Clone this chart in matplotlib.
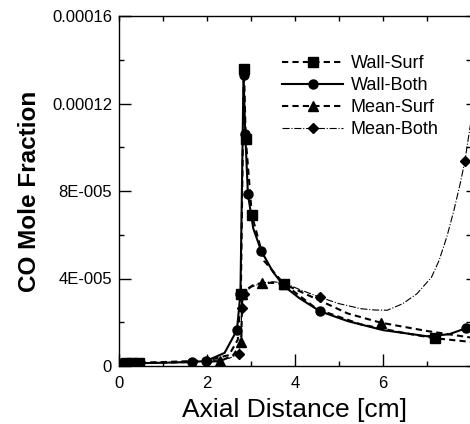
"""
CO mole fraction along the axis for the wall / mean boundary conditions
"""
import numpy as np
from matplotlib import pyplot as plt
from matplotlib.ticker import FixedLocator, MultipleLocator

plt.rcParams['font.family'] = ['Liberation Sans', 'DejaVu Sans']

SCALE = 1e-5  # y values below are stored in units of 1e-5

# Wall-Surf (squares, dashed)
ws_x = [0.0, 0.08, 0.16, 0.3, 0.45, 1.0, 2.0, 2.5, 2.7, 2.77, 2.8, 2.84, 2.88,
        3.02, 3.3, 3.75, 4.5, 5.5, 6.5, 7.18, 8.0]
ws_y = [0.1, 0.1, 0.12, 0.12, 0.15, 0.18, 0.25, 0.5, 1.2, 3.3, 8.0, 13.6, 10.4,
        6.9, 4.8, 3.75, 2.6, 1.9, 1.5, 1.27, 1.1]
ws_marks = [0, 1, 2, 3, 4, 9, 11, 12, 13, 15, 19]

# Wall-Both (circles, solid)
wb_x = [0.0, 0.1, 0.3, 0.45, 1.0, 1.66, 1.98, 2.4, 2.68, 2.76, 2.8, 2.83, 2.87,
        2.93, 3.05, 3.23, 3.5, 3.75, 4.1, 4.57, 5.2, 6.0, 7.0, 7.5, 7.89, 8.0]
wb_y = [0.1, 0.1, 0.12, 0.13, 0.15, 0.18, 0.23, 0.6, 1.64, 3.3, 9.0, 13.3, 10.6,
        7.86, 6.3, 5.27, 4.3, 3.65, 3.1, 2.5, 2.05, 1.64, 1.36, 1.45, 1.73, 1.82]
wb_marks = [0, 5, 6, 8, 9, 11, 12, 13, 15, 19, 24]

# Mean-Surf (triangles, dashed)
ms_x = [0.0, 0.1, 0.3, 1.0, 2.0, 2.3, 2.6, 2.78, 2.8, 2.9, 3.05, 3.25, 3.5,
        3.75, 4.5, 5.2, 5.95, 7.0, 8.0]
ms_y = [0.1, 0.1, 0.12, 0.15, 0.2, 0.22, 0.5, 1.1, 3.3, 3.5, 3.7, 3.8, 3.8,
        3.75, 3.05, 2.4, 1.98, 1.6, 1.3]
ms_marks = [0, 1, 5, 7, 8, 11, 13, 16]

# Mean-Both (diamonds, dash-dot)
mb_x = [0.0, 0.1, 0.3, 1.0, 2.0, 2.5, 2.73, 2.8, 2.83, 3.0, 3.25, 3.5, 3.75,
        4.1, 4.57, 5.0, 5.5, 5.8, 6.1, 6.45, 6.77, 7.1, 7.27, 7.45, 7.61, 7.75,
        7.86, 8.0]
mb_y = [0.1, 0.1, 0.12, 0.15, 0.22, 0.35, 0.55, 2.65, 3.3, 3.6, 3.8, 3.85, 3.8,
        3.5, 3.14, 2.85, 2.62, 2.56, 2.55, 2.85, 3.3, 4.05, 4.8, 5.9, 7.1, 8.3,
        9.36, 11.2]
mb_marks = [0, 1, 2, 4, 6, 7, 8, 14, 26]

y_ticks = [0, 4e-5, 8e-5, 1.2e-4, 1.6e-4]
y_tick_labels = ['0', '4E-005', '8E-005', '0.00012', '0.00016']
x_ticks = [0, 2, 4, 6]
x_tick_labels = ['0', '2', '4', '6']

fig = plt.figure(figsize=(4.7, 4.24), dpi=100)
ax = fig.add_axes([119 / 470, 1 - 366 / 424, 352 / 470, 350 / 424])

ax.plot(ws_x, np.array(ws_y) * SCALE, color='black', lw=1.5, ls=(0, (3, 2)),
        marker='s', ms=6.5, markevery=ws_marks, label='Wall-Surf')
ax.plot(wb_x, np.array(wb_y) * SCALE, color='black', lw=1.5, ls='-',
        marker='o', ms=6.5, markevery=wb_marks, label='Wall-Both')
ax.plot(ms_x, np.array(ms_y) * SCALE, color='black', lw=1.5, ls=(0, (3, 2)),
        marker='^', ms=6.5, markevery=ms_marks, label='Mean-Surf')
ax.plot(mb_x, np.array(mb_y) * SCALE, color='black', lw=0.8, ls='-.',
        marker='D', ms=5, markevery=mb_marks, label='Mean-Both')

ax.set_xlim(0, 8)
ax.set_ylim(0, 1.6e-4)
ax.xaxis.set_major_locator(FixedLocator(x_ticks))
ax.xaxis.set_minor_locator(MultipleLocator(1))
ax.yaxis.set_major_locator(FixedLocator(y_ticks))
ax.yaxis.set_minor_locator(MultipleLocator(2e-5))
ax.set_xticklabels(x_tick_labels)
ax.set_yticklabels(y_tick_labels)

ax.tick_params(which='both', direction='in', top=True, right=True, width=1,
               labelsize=12, pad=5)
ax.tick_params(axis='x', which='both', pad=7)
ax.tick_params(which='major', length=8.6)
ax.tick_params(which='minor', length=3.6)
# opposite spines only carry short ticks
for t in ax.xaxis.get_major_ticks() + ax.yaxis.get_major_ticks():
    t.tick2line.set_markersize(3.6)

for s in ax.spines.values():
    s.set_linewidth(1.0)

ax.set_xlabel('Axial Distance [cm]', fontsize=19, labelpad=5)
ax.set_ylabel('CO Mole Fraction', fontsize=17.5, fontweight='bold', labelpad=8)

ax.legend(loc='upper left', bbox_to_anchor=(282 / 470, 1 - 55 / 424),
          bbox_transform=fig.transFigure, frameon=False, fontsize=13,
          handlelength=3.4, handletextpad=0.4, labelspacing=0.28,
          borderpad=0, borderaxespad=0)

fig.savefig('out.png', dpi=100)
